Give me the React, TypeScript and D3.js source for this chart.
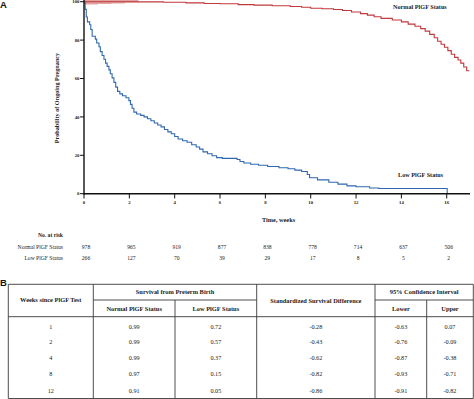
import React from "react";
import * as d3 from "d3";

const W = 474;
const H = 399;

// Kaplan-Meier step points [weeks, percent]
const normalCurve: [number, number][] = [
  [0, 100], [2.4, 99.9], [3.5, 99.7], [4.5, 99.4], [5.3, 99.1], [6.0, 98.9], [6.8, 98.5],
  [7.5, 98.2], [8.3, 97.9], [9.1, 97.5], [9.6, 97.1], [10.0, 96.6], [10.5, 96.3], [11.0, 95.9],
  [11.4, 95.4], [11.8, 94.6], [12.2, 93.8], [12.5, 93.0], [12.8, 92.2], [13.1, 91.3], [13.6, 90.5],
  [14.0, 89.5], [14.3, 88.3], [14.6, 87.2], [14.85, 86.0], [15.05, 84.7], [15.25, 83.0],
  [15.45, 81.2], [15.6, 79.4], [15.75, 77.8], [15.9, 76.3], [16.05, 74.5], [16.2, 72.6],
  [16.35, 71.0], [16.5, 69.6], [16.62, 68.0], [16.75, 66.0], [16.88, 64.0], [17.0, 64.0]
];

const lowCurve: [number, number][] = [
  [0, 100], [0.05, 96], [0.1, 92], [0.15, 89.5], [0.25, 88], [0.3, 85.5], [0.36, 82],
  [0.5, 80.5], [0.56, 78.5], [0.66, 76.5], [0.72, 74], [0.8, 72], [0.88, 70], [0.95, 68],
  [1.02, 66.3], [1.1, 64.5], [1.16, 62.5], [1.24, 60.3], [1.32, 58], [1.4, 55.5], [1.48, 53.3],
  [1.58, 52], [1.7, 51], [1.85, 50], [1.98, 48.5], [2.05, 46.5], [2.12, 44.5], [2.2, 42.5],
  [2.32, 41.5], [2.5, 40.8], [2.65, 40], [2.8, 39], [2.95, 38], [3.1, 36.8], [3.25, 35.8],
  [3.4, 34.8], [3.55, 33.4], [3.7, 32.2], [3.85, 31.2], [4.0, 29.8], [4.15, 28.5], [4.35, 27.6],
  [4.55, 26.8], [4.75, 25.5], [4.95, 24.3], [5.1, 23.2], [5.25, 21.8], [5.45, 20.8], [5.65, 19.8],
  [5.85, 18.8], [6.1, 18.4], [6.75, 17.8], [6.88, 16.8], [7.05, 16.0], [7.35, 15.3], [7.7, 14.8],
  [8.1, 14.2], [8.6, 13.5], [9.0, 13.0], [9.3, 12.3], [9.6, 11.6], [9.85, 10.0], [9.95, 8.3],
  [10.3, 7.2], [10.8, 6.0], [11.2, 5.0], [11.6, 4.1], [12.0, 3.6], [12.6, 3.0], [13.0, 2.7],
  [16.02, 0]
];

const pinkBand: [number, number][] = [
  [0, 98.6], [0.6, 98.8], [1.2, 99.1], [1.8, 99.4], [2.4, 99.7]
];

const xTicks = [0, 2, 4, 6, 8, 10, 12, 14, 16];
const yTicks = [0, 20, 40, 60, 80, 100];
const riskNormal = [978, 965, 919, 877, 838, 778, 714, 637, 506];
const riskLow = [266, 127, 70, 39, 29, 17, 8, 5, 2];

const tableWeeks = ["1", "2", "4", "8", "12"];
const tableNormal = ["0.99", "0.99", "0.99", "0.97", "0.91"];
const tableLow = ["0.72", "0.57", "0.37", "0.15", "0.05"];
const tableDiff = ["-0.28", "-0.43", "-0.62", "-0.82", "-0.86"];
const tableLower = ["-0.63", "-0.76", "-0.87", "-0.93", "-0.91"];
const tableUpper = ["0.07", "-0.09", "-0.38", "-0.71", "-0.82"];

const SERIF = "'Liberation Serif', 'Times New Roman', serif";
const SANS = "'Liberation Sans', Arial, sans-serif";

export default function App() {
  const x = d3.scaleLinear().domain([0, 17]).range([84, 469.4]);
  const y = d3.scaleLinear().domain([0, 100]).range([193.7, 1.7]);

  const line = d3
    .line<[number, number]>()
    .x((d) => x(d[0]))
    .y((d) => y(d[1]))
    .curve(d3.curveStepAfter);

  const area = d3
    .area<[number, number]>()
    .x((d) => x(d[0]))
    .y0((d) => y(d[1]))
    .y1(() => y(101))
    .curve(d3.curveStepAfter);

  const lineColor = "#3a3a3a";
  // table geometry
  const tTop = 284.3;
  const tMid = 300;
  const tHead = 316.7;
  const tBot = 398.5;
  const cols = [8.3, 93.3, 175, 256.7, 375, 426.7, 473.3];
  const rowY = [326.7, 341.7, 357.7, 374.3, 391];
  const colCenters = cols.slice(0, -1).map((c, i) => (c + cols[i + 1]) / 2);

  return (
    <svg
      width={W}
      height={H}
      style={{ position: "fixed", left: 0, top: 0, background: "#fff" }}
      fontFamily={SERIF}
    >
      <rect width={W} height={H} fill="#fff" />
      <text x={0} y={8.3} fontFamily={SANS} fontWeight="bold" fontSize={9.5} fill="#111">A</text>

      {/* pink band */}
      <path d={area(pinkBand) || ""} fill="#e2a4a0" />

      {/* curves */}
      <path d={line(normalCurve) || ""} fill="none" stroke="#c0393c" strokeWidth={1.1} />
      <path d={line(lowCurve) || ""} fill="none" stroke="#2f68b0" strokeWidth={1.1} />

      {/* axes */}
      <line x1={84} x2={84} y1={0} y2={194.5} stroke="#111" strokeWidth={1.4} />
      <line x1={83.3} x2={470} y1={193.7} y2={193.7} stroke="#111" strokeWidth={1.4} />
      {yTicks.map((t) => (
        <g key={"y" + t}>
          <line x1={80} x2={84} y1={y(t)} y2={y(t)} stroke="#111" strokeWidth={1} />
          <text x={79.5} y={y(t) + 1.6} textAnchor="end" fontSize={4.8} fontWeight="bold" fill="#222">
            {t}
          </text>
        </g>
      ))}
      {xTicks.map((t) => (
        <g key={"x" + t}>
          <line x1={x(t)} x2={x(t)} y1={193.7} y2={198.5} stroke="#111" strokeWidth={1} />
          <text x={x(t)} y={203.6} textAnchor="middle" fontSize={4.8} fontWeight="bold" fill="#222">
            {t}
          </text>
        </g>
      ))}
      <text
        transform={`translate(59,98) rotate(-90)`}
        textAnchor="middle"
        fontSize={6.2}
        fontWeight="bold"
        fill="#222"
      >
        Probability of Ongoing Pregnancy
      </text>
      <text x={262} y={222} fontSize={6.3} fontWeight="bold" fill="#222">Time, weeks</text>
      <text x={393} y={9} fontSize={6.2} fontWeight="bold" fill="#222">Normal PlGF Status</text>
      <text x={398} y={177} fontSize={6.2} fontWeight="bold" fill="#222">Low PlGF Status</text>

      {/* number at risk */}
      <text x={63} y={237} textAnchor="end" fontSize={5.6} fontWeight="bold" fill="#222">No. at risk</text>
      <text x={63} y={248.7} textAnchor="end" fontSize={5.6} fill="#222">Normal PlGF Status</text>
      <text x={63} y={260.3} textAnchor="end" fontSize={5.6} fill="#222">Low PlGF Status</text>
      {riskNormal.map((v, i) => (
        <text key={"rn" + i} x={x(xTicks[i]) + 2} y={248.7} textAnchor="middle" fontSize={5.6} fill="#222">
          {v}
        </text>
      ))}
      {riskLow.map((v, i) => (
        <text key={"rl" + i} x={x(xTicks[i]) + 2} y={260.3} textAnchor="middle" fontSize={5.6} fill="#222">
          {v}
        </text>
      ))}

      {/* Table B */}
      <text x={0} y={285.7} fontFamily={SANS} fontWeight="bold" fontSize={9.5} fill="#111">B</text>
      <g stroke={lineColor} strokeWidth={0.9}>
        <line x1={cols[0]} x2={cols[6]} y1={tTop} y2={tTop} />
        <line x1={cols[1]} x2={cols[3]} y1={tMid} y2={tMid} />
        <line x1={cols[4]} x2={cols[6]} y1={tMid} y2={tMid} />
        <line x1={cols[0]} x2={cols[6]} y1={tHead} y2={tHead} />
        <line x1={cols[0]} x2={cols[6]} y1={tBot} y2={tBot} />
        {[0, 1, 3, 4, 6].map((i) => (
          <line key={"c" + i} x1={cols[i]} x2={cols[i]} y1={tTop} y2={tBot} />
        ))}
        {[2, 5].map((i) => (
          <line key={"c" + i} x1={cols[i]} x2={cols[i]} y1={tMid} y2={tBot} />
        ))}
      </g>
      <g fontSize={6.4} fontWeight="bold" fill="#222" textAnchor="middle">
        <text x={colCenters[0]} y={302.2}>Weeks since PlGF Test</text>
        <text x={(cols[1] + cols[3]) / 2} y={294.4}>Survival from Preterm Birth</text>
        <text x={colCenters[1]} y={310.6}>Normal PlGF Status</text>
        <text x={colCenters[2]} y={310.6}>Low PlGF Status</text>
        <text x={colCenters[3]} y={303}>Standardized Survival Difference</text>
        <text x={(cols[4] + cols[6]) / 2} y={294.4}>95% Confidence Interval</text>
        <text x={colCenters[4]} y={310.6}>Lower</text>
        <text x={colCenters[5]} y={310.6}>Upper</text>
      </g>
      <g fontSize={6.2} fill="#222" textAnchor="middle">
        {rowY.map((ry, i) => (
          <g key={"r" + i}>
            <text x={colCenters[0]} y={ry + 2.1}>{tableWeeks[i]}</text>
            <text x={colCenters[1]} y={ry + 2.1}>{tableNormal[i]}</text>
            <text x={colCenters[2]} y={ry + 2.1}>{tableLow[i]}</text>
            <text x={colCenters[3]} y={ry + 2.1}>{tableDiff[i]}</text>
            <text x={colCenters[4]} y={ry + 2.1}>{tableLower[i]}</text>
            <text x={colCenters[5]} y={ry + 2.1}>{tableUpper[i]}</text>
          </g>
        ))}
      </g>
    </svg>
  );
}
